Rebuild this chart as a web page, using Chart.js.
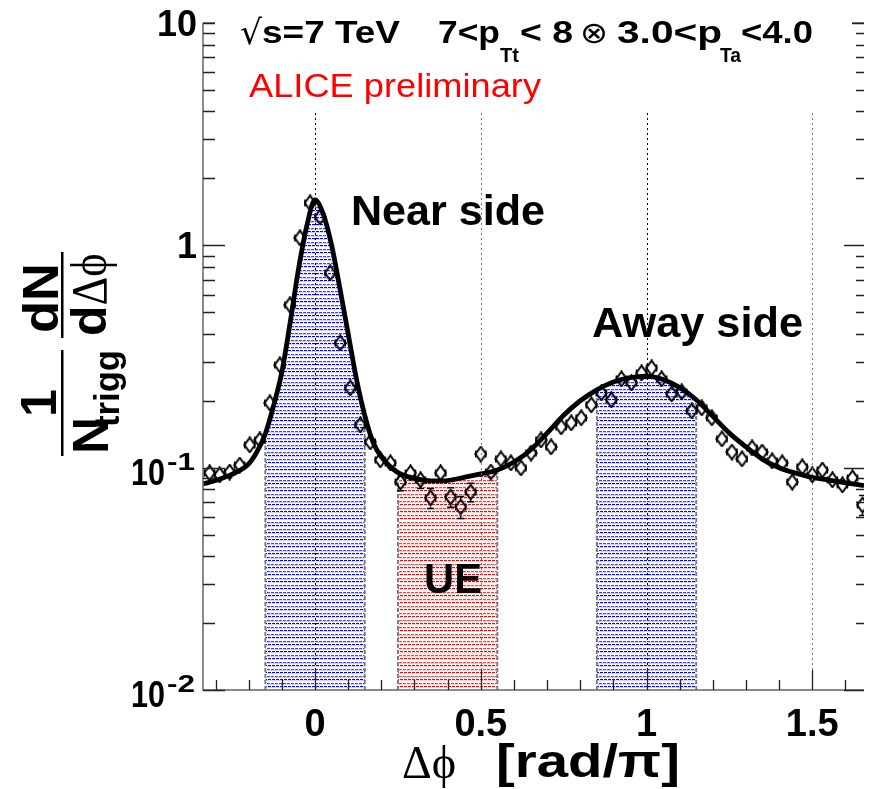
<!DOCTYPE html>
<html><head><meta charset="utf-8">
<script src="https://cdn.jsdelivr.net/npm/chart.js@4/dist/chart.umd.min.js"></script>
<style>html,body{margin:0;padding:0;background:#fff;overflow:hidden}#wrap{width:873px;height:789px}</style>
</head><body><div id="wrap"><canvas id="c" width="873" height="789"></canvas></div>
<script>
// ---------------- data ----------------
const phiCenters = [-0.3182,-0.2879,-0.2576,-0.2273,-0.1970,-0.1667,-0.1364,-0.1061,-0.0758,-0.0455,-0.0152,
 0.0152,0.0455,0.0758,0.1061,0.1364,0.1667,0.1970,0.2273,0.2576,0.2879,0.3182,0.3485,0.3788,0.4091,0.4394,0.4697,
 0.5000,0.5303,0.5606,0.5909,0.6212,0.6515,0.6818,0.7121,0.7424,0.7727,0.8030,0.8333,0.8636,0.8939,0.9242,0.9545,
 0.9848,1.0152,1.0455,1.0758,1.1061,1.1364,1.1667,1.1970,1.2273,1.2576,1.2879,1.3182,1.3485,1.3788,1.4091,1.4394,
 1.4697,1.5000,1.5303,1.5606,1.5909,1.6212,1.6515];
const yieldValues = [0.0947,0.0927,0.0956,0.1028,0.1265,0.1332,0.1954,0.2897,0.5394,1.080,1.551,
 1.342,0.7513,0.3639,0.2283,0.1556,0.1305,0.1083,0.1050,0.0862,0.0947,0.0881,0.0731,0.0947,0.0738,0.0666,0.0777,
 0.1152,0.0956,0.1094,0.1050,0.0997,0.1164,0.1332,0.1239,0.1524,0.1589,0.1674,0.1914,0.2168,0.2016,0.2506,0.2404,
 0.2667,0.2808,0.2506,0.2146,0.2191,0.1799,0.1856,0.1674,0.1346,0.1176,0.1094,0.1226,0.1176,0.1072,0.1050,0.0862,
 0.1007,0.0927,0.0976,0.0881,0.0836,0.0899,0.0679];
const yieldErrors = [0.006,0.006,0.006,0.006,0.007,0.007,
 0.010,0.014,0.024,0.040,0.050,0.046,0.030,0.018,0.012,0.009,0.008,
 0.007,0.007,
 0.0075,0.0075,0.0075,0.0075,0.0075,0.0075,0.0075,0.0075,
 0.008,0.007,0.008,0.008,0.007,0.008,0.008,0.008,0.009,
 0.009,0.010,0.010,0.011,0.011,0.012,0.012,0.012,0.013,0.012,0.011,
 0.011,0.010,0.010,0.010,0.008,0.008,0.008,0.008,0.008,0.007,0.007,
 0.007,0.007,0.007,0.007,0.007,0.007,0.007,0.007];
const binHalfWidth = 0.01515;
const fitX = [-0.338,-0.30,-0.25,-0.20,-0.175,-0.15,-0.125,-0.10,-0.075,-0.05,-0.025,0.0,0.025,0.05,0.075,0.10,0.125,
 0.15,0.175,0.20,0.25,0.30,0.35,0.40,0.45,0.50,0.55,0.60,0.65,0.70,0.75,0.80,0.85,0.90,0.95,1.00,1.05,1.10,1.15,1.20,
 1.25,1.30,1.35,1.40,1.45,1.50,1.55,1.60,1.656];
const fitY = [0.0845,0.0875,0.0935,0.104,0.118,0.142,0.19,0.27,0.45,0.78,1.22,1.60,1.38,1.00,0.64,0.40,0.25,
 0.172,0.13,0.112,0.095,0.0895,0.0872,0.0875,0.0905,0.0937,0.0976,0.106,0.120,0.143,0.172,0.200,0.224,0.243,0.254,0.258,
 0.249,0.229,0.202,0.170,0.143,0.124,0.109,0.100,0.0945,0.0905,0.088,0.0855,0.083];
const nearRange = [-0.15, 0.15];
const ueRange = [0.25, 0.55];
const awayRange = [0.85, 1.15];
const xTickValues = [0, 0.5, 1, 1.5];
const xTickLabels = ['0', '0.5', '1', '1.5'];
const yTickValues = [10, 1, 0.1, 0.01];
const yTickBase = ['10', '1', '10', '10'];
const yTickExp = ['', '', '-1', '-2'];

// ---------------- helpers ----------------
const canvas = document.getElementById('c');
const ctx0 = canvas.getContext('2d');
function makePattern(dark, mid, light){
  const c = document.createElement('canvas'); c.width = 4; c.height = 7;
  const g = c.getContext('2d');
  g.fillStyle = dark; g.fillRect(0,0,3,1);
  g.fillStyle = light; g.fillRect(0,1,4,1);
  g.fillStyle = mid; g.fillRect(0,4,2,1); g.fillRect(3,4,1,1);
  g.fillStyle = light; g.fillRect(0,5,4,1);
  return ctx0.createPattern(c, 'repeat');
}
const bluePattern = makePattern('rgba(0,0,255,1)', 'rgba(30,30,255,0.85)', 'rgba(0,0,255,0.18)');
const redPattern = makePattern('rgba(255,0,0,1)', 'rgba(255,30,30,0.85)', 'rgba(255,0,0,0.18)');

const marker = document.createElement('canvas');
marker.width = 13; marker.height = 17;
(function(){ const g = marker.getContext('2d'); g.beginPath(); g.moveTo(6.5,1.2); g.lineTo(11.8,8.5); g.lineTo(6.5,15.8); g.lineTo(1.2,8.5); g.closePath(); g.strokeStyle='#000'; g.lineWidth=2; g.stroke(); })();

const fitPoints = fitX.map((x,i)=>({x, y: fitY[i]}));
const within = r => fitPoints.filter(p => p.x >= r[0]-1e-9 && p.x <= r[1]+1e-9);
const edgeOf = (x) => { const p = fitPoints.find(q => Math.abs(q.x-x)<1e-9); return [{x, y:0.01},{x, y:p.y}]; };
const dataPoints = phiCenters.map((x,i)=>({x, y: yieldValues[i]}));

const SANS = '"Liberation Sans", Arial, Helvetica, sans-serif';
const SERIF = '"Liberation Serif", "DejaVu Serif", "Times New Roman", serif';
function txt(ctx, s, x, y, font, width, color, align){
  ctx.save(); ctx.font = font; ctx.fillStyle = color || '#000'; ctx.textBaseline = 'alphabetic';
  const w = ctx.measureText(s).width;
  let sx = width ? width / w : 1;
  let dx = 0;
  if (align === 'right') dx = -w*sx; else if (align === 'center') dx = -w*sx/2;
  ctx.translate(x + dx, y); ctx.scale(sx, 1); ctx.fillText(s, 0, 0); ctx.restore();
}
function rtxt(ctx, s, bx, y0, font, width){
  ctx.save(); ctx.font = font; ctx.fillStyle = '#000'; ctx.textBaseline = 'alphabetic';
  const w = ctx.measureText(s).width; const sx = width ? width/w : 1;
  ctx.translate(bx, y0); ctx.rotate(-Math.PI/2); ctx.scale(sx,1); ctx.fillText(s,0,0); ctx.restore();
  return w*sx;
}

const overlay = {
  id: 'overlay',
  afterDatasetsDraw(chart){
    const ctx = chart.ctx, xs = chart.scales.x, ys = chart.scales.y, a = chart.chartArea;
    ctx.save();
    ctx.beginPath(); ctx.rect(a.left, a.top, a.right-a.left, a.bottom-a.top); ctx.clip();
    // error bars
    ctx.strokeStyle = '#000'; ctx.lineWidth = 1.5;
    phiCenters.forEach((phi,i)=>{
      const v = yieldValues[i], e = yieldErrors[i];
      const px = xs.getPixelForValue(phi), py = ys.getPixelForValue(v);
      const l = xs.getPixelForValue(phi-binHalfWidth), r = xs.getPixelForValue(phi+binHalfWidth);
      const t = ys.getPixelForValue(v+e), b = ys.getPixelForValue(v-e);
      ctx.beginPath();
      if (l < px-6) { ctx.moveTo(l,py); ctx.lineTo(px-6,py); ctx.moveTo(px+6,py); ctx.lineTo(r,py); }
      ctx.moveTo(l,py-3.5); ctx.lineTo(l,py+3.5); ctx.moveTo(r,py-3.5); ctx.lineTo(r,py+3.5);
      if (t < py-8.5){ ctx.moveTo(px,t); ctx.lineTo(px,py-8.5); ctx.moveTo(px-3.5,t); ctx.lineTo(px+3.5,t); }
      if (b > py+8.5){ ctx.moveTo(px,b); ctx.lineTo(px,py+8.5); ctx.moveTo(px-3.5,b); ctx.lineTo(px+3.5,b); }
      ctx.stroke();
    });
    // vertical grid lines (dotted)
    xTickValues.forEach(v=>{
      const px = Math.round(xs.getPixelForValue(v)) + 0.5;
      ctx.beginPath(); ctx.setLineDash([2,3]);
      ctx.strokeStyle = (v === 0 || v === 1) ? '#000' : '#777'; ctx.lineWidth = 1;
      ctx.moveTo(px, 113); ctx.lineTo(px, a.bottom); ctx.stroke();
    });
    ctx.setLineDash([]);
    ctx.restore();
  },
  afterDraw(chart){
    const ctx = chart.ctx, xs = chart.scales.x, ys = chart.scales.y, a = chart.chartArea;
    ctx.save();
    // frame
    ctx.strokeStyle = '#666'; ctx.lineWidth = 1.5;
    ctx.beginPath();
    ctx.moveTo(a.left, a.top); ctx.lineTo(a.left, a.bottom); ctx.lineTo(a.right, a.bottom);
    ctx.moveTo(a.left, a.top); ctx.lineTo(a.right, a.top);
    ctx.stroke();
    // x ticks
    ctx.strokeStyle = '#222'; ctx.lineWidth = 1.3;
    ctx.beginPath();
    for (let i = -3; i <= 16; i++){
      const v = i/10; const px = Math.round(xs.getPixelForValue(v)) + 0.5;
      const major = (i % 5 === 0);
      ctx.moveTo(px, a.bottom); ctx.lineTo(px, a.bottom - (major ? 20 : 10));
    }
    ctx.stroke();
    // y ticks (left and right)
    ctx.beginPath();
    for (let d = -2; d <= 0; d++){
      for (let m = 1; m <= 10; m++){
        const v = m*Math.pow(10,d); const py = Math.round(ys.getPixelForValue(v)) + 0.5;
        const major = (m === 1 || m === 10);
        ctx.moveTo(a.left, py); ctx.lineTo(a.left + (major ? 22 : 12), py);
        ctx.moveTo(a.right, py); ctx.lineTo(a.right - (major ? 20 : 8), py);
      }
    }
    ctx.stroke();
    // white text box (covers top frame)
    ctx.fillStyle = '#fff'; ctx.fillRect(215, 0, 637, 112);
    // tick labels
    xTickValues.forEach((v,i)=>{ txt(ctx, xTickLabels[i], xs.getPixelForValue(v), 736, 'bold 38px '+SANS, null, '#000', 'center'); });
    yTickValues.forEach((v,i)=>{
      const py = ys.getPixelForValue(v);
      if (!yTickExp[i]) {
        txt(ctx, yTickBase[i], 197, py + 13, 'bold 36px '+SANS, null, '#000', 'right');
      } else {
        txt(ctx, yTickBase[i], 165, py + 17, 'bold 36px '+SANS, 34, '#000', 'right');
        txt(ctx, yTickExp[i], 167, py + 2, 'bold 24px '+SANS, 28, '#000', 'left');
      }
    });
    // axis titles
    txt(ctx, '\u0394\u03D5', 402, 778, '46px '+SERIF, 54, '#000');
    txt(ctx, '[rad/\u03C0]', 496, 777, 'bold 46px '+SANS, 184, '#000');
    // y title (rotated fractions)
    ctx.fillStyle = '#000';
    ctx.fillRect(61, 252, 2.5, 86);
    ctx.fillRect(61, 350, 2.5, 106);
    rtxt(ctx, 'dN', 58, 333, 'bold 50px '+SANS, 70);
    const wd = rtxt(ctx, 'd', 106, 336, 'bold 50px '+SANS, null);
    rtxt(ctx, '\u0394\u03D5', 106, 336 - wd, '50px '+SERIF, 52);
    rtxt(ctx, '1', 56, 417, 'bold 50px '+SANS, null);
    rtxt(ctx, 'N', 108, 454, 'bold 50px '+SANS, 37);
    rtxt(ctx, 'trigg', 119, 427, 'bold 35px '+SANS, 77);
    // header text
    txt(ctx, '\u221A', 240, 44, '34px "DejaVu Sans", sans-serif', 22, '#000');
    txt(ctx, 's=7 TeV', 262, 43, 'bold 31px '+SANS, 138, '#000');
    txt(ctx, '7<p', 438, 43, 'bold 31px '+SANS, 62, '#000');
    txt(ctx, 'Tt', 500, 62, 'bold 21px '+SANS, 19, '#000');
    txt(ctx, '< 8', 520, 43, 'bold 31px '+SANS, 53, '#000');
    txt(ctx, '\u2297', 580, 43, '30px "DejaVu Sans", sans-serif', 28, '#000');
    txt(ctx, '3.0<p', 617, 43, 'bold 31px '+SANS, 105, '#000');
    txt(ctx, 'Ta', 720, 62, 'bold 21px '+SANS, 21, '#000');
    txt(ctx, '<4.0', 741, 43, 'bold 31px '+SANS, 72, '#000');
    txt(ctx, 'ALICE preliminary', 249, 97, '33px '+SANS, 292, '#ff0000');
    // peak labels
    txt(ctx, 'Near side', 351, 225, 'bold 42px '+SANS, 194, '#000');
    txt(ctx, 'Away side', 592, 337, 'bold 42px '+SANS, 211, '#000');
    txt(ctx, 'UE', 424, 593, 'bold 42px '+SANS, 58, '#000');
    ctx.restore();
  }
};

new Chart(canvas, {
  type: 'line',
  data: { datasets: [
    { data: within(nearRange), backgroundColor: bluePattern, borderWidth: 0, pointRadius: 0, fill: 'start', cubicInterpolationMode: 'monotone', order: 5 },
    { data: within(ueRange), backgroundColor: redPattern, borderWidth: 0, pointRadius: 0, fill: 'start', cubicInterpolationMode: 'monotone', order: 5 },
    { data: within(awayRange), backgroundColor: bluePattern, borderWidth: 0, pointRadius: 0, fill: 'start', cubicInterpolationMode: 'monotone', order: 5 },
    ...[nearRange[0], nearRange[1], ueRange[0], ueRange[1], awayRange[0], awayRange[1]].map(x => ({
      data: edgeOf(x), borderColor: '#777', borderWidth: 1.8, borderDash: [4,2], pointRadius: 0, fill: false, order: 4 })),
    { data: fitPoints, borderColor: '#000', borderWidth: 4.8, pointRadius: 0, fill: false, cubicInterpolationMode: 'monotone', order: 2 },
    { type: 'scatter', data: dataPoints, pointStyle: marker, pointRadius: 8, showLine: false, order: 1 }
  ]},
  options: {
    responsive: false, animation: false, devicePixelRatio: 1,
    layout: { padding: { left: 203, top: 23, right: 0, bottom: 99 } },
    plugins: { legend: { display: false }, tooltip: { enabled: false } },
    scales: {
      x: { type: 'linear', min: -0.338, max: 1.656, display: false },
      y: { type: 'logarithmic', min: 0.01, max: 10, display: false }
    }
  },
  plugins: [overlay]
});
</script></body></html>
